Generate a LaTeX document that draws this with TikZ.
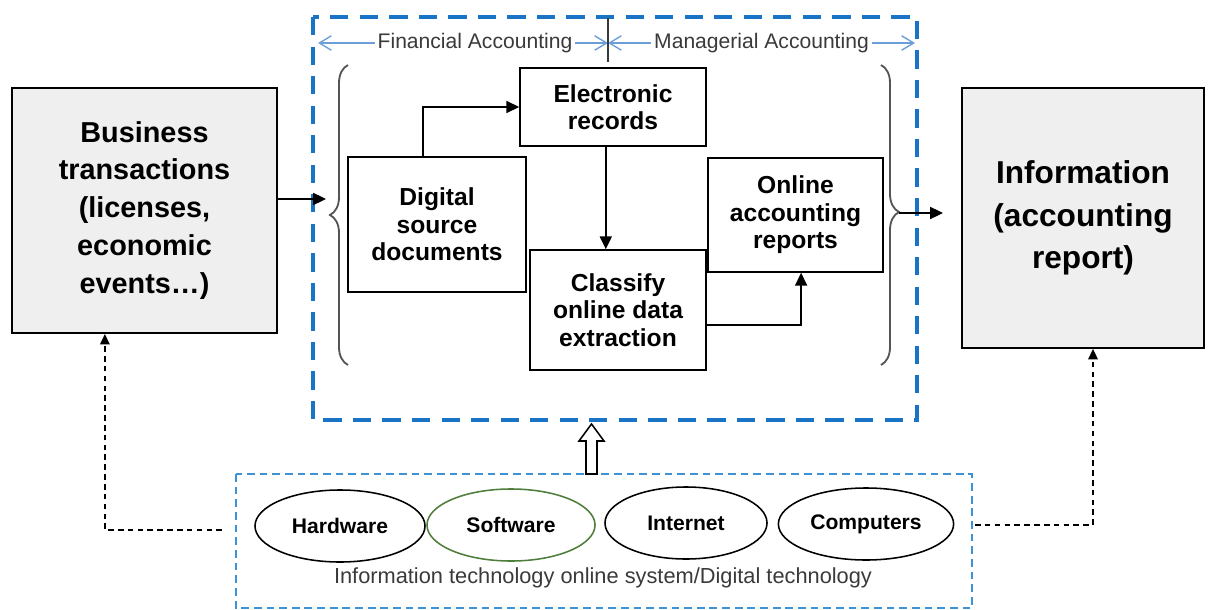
\documentclass[tikz,border=0pt]{standalone}
\usepackage{fontspec}
\setmainfont{Liberation Sans}
\usetikzlibrary{arrows.meta,positioning,shapes.geometric,calc,decorations.pathreplacing}
\definecolor{FrameBlue}{HTML}{1A74C6}
\definecolor{ArrowBlue}{HTML}{6A9FD8}
\definecolor{ItBlue}{HTML}{3D93D6}
\definecolor{BoxGray}{HTML}{EFEFEF}
\definecolor{LabelGray}{HTML}{3A3A3A}
\definecolor{BraceGray}{HTML}{555555}
\definecolor{EdgeGreen}{HTML}{4F7D3A}

\begin{document}
\begin{tikzpicture}[x=0.025cm,y=-0.025cm,
    outerbox/.style={draw,line width=1.3pt,fill=BoxGray,align=center,font=\bfseries},
    stagebox/.style={draw,line width=1.1pt,align=center,font=\fontsize{17.5}{19.5}\selectfont\bfseries},
    techitem/.style={ellipse,draw,line width=1.1pt,font=\fontsize{15}{17}\selectfont\bfseries,minimum height=1.8cm},
    flow/.style={line width=1.1pt,-{Triangle[length=3.2mm,width=3mm]}},
    link/.style={line width=0.9pt,dashed,dash pattern=on 4pt off 3pt,-{Triangle[length=2.6mm,width=2.4mm]}},
    scopearrow/.style={ArrowBlue,line width=1pt,{Straight Barb[length=3mm,width=3.6mm]}-{Straight Barb[length=3mm,width=3.6mm]}},
    scopelabel/.style={fill=white,text=LabelGray,inner sep=2pt,font=\fontsize{15}{17}\selectfont},
    curly/.style={BraceGray,line width=1.3pt,decorate}]
  \useasboundingbox (0,0) rectangle (1208,610);

  \draw[FrameBlue,line width=2.8pt,dash pattern=on 13pt off 8pt] (313,17) rectangle (917,420);
  \draw[ItBlue,line width=1.1pt,dash pattern=on 5.5pt off 3.5pt] (236,474) rectangle (972,608);

  \node[outerbox,minimum width=6.63cm,minimum height=6.13cm,font=\fontsize{20.5}{27}\selectfont\bfseries] (biz) at (144.5,210.5)
    {Business\\transactions\\(licenses,\\economic\\events\dots)};
  \node[outerbox,minimum width=6.05cm,minimum height=6.5cm,font=\fontsize{22.5}{30}\selectfont\bfseries] (info) at (1083,218)
    {Information\\(accounting\\report)};

  \coordinate (split) at (608,43);
  \coordinate (finl) at (318,43);
  \coordinate (manr) at (915,43);
  \draw[scopearrow] (finl) -- (split) node[scopelabel,midway,xshift=0.3cm] {Financial Accounting};
  \draw[scopearrow] (split) -- (manr) node[scopelabel,midway] {Managerial Accounting};
  \draw[LabelGray,line width=0.9pt] (608,18) -- (608,62);

  \node[stagebox,minimum width=4.45cm,minimum height=3.38cm] (dig) at (437,224.5) {Digital\\source\\documents};
  \node[stagebox,minimum width=4.65cm,minimum height=1.95cm] (elec) at (613,107) {Electronic\\records};
  \node[stagebox,minimum width=4.4cm,minimum height=3cm] (cls) at (618,310) {Classify\\online data\\extraction};
  \node[stagebox,minimum width=4.38cm,minimum height=2.85cm] (onl) at (795.5,215) {Online\\accounting\\reports};

  \draw[flow] ([xshift=-0.35cm]dig.north) |- (elec.west);
  \draw[flow] ([xshift=-0.18cm]elec.south) -- ([xshift=-0.18cm]elec.south |- cls.north);
  \draw[flow] ([yshift=-0.38cm]cls.east) -| ([xshift=0.14cm]onl.south);

  \draw[curly,decoration={brace,amplitude=0.45cm,aspect=0.5}] (348,365) -- (348,65);
  \draw[curly,decoration={brace,amplitude=0.45cm,aspect=0.49}] (881,65) -- (881,365);
  \coordinate (lbrace) at (326,199);
  \coordinate (rbrace) at (899,213);
  \coordinate (rbend) at (943,213);
  \draw[flow] (biz.east |- lbrace) -- (lbrace);
  \draw[flow] (rbrace) -- (rbend);

  \node[techitem,minimum width=4.25cm] (hw) at (340,526) {Hardware};
  \node[techitem,minimum width=4.2cm,draw=EdgeGreen] (sw) at (511,525) {Software};
  \node[techitem,minimum width=4.05cm] (net) at (686,523) {Internet};
  \node[techitem,minimum width=4.38cm] (pc) at (866,524) {Computers};
  \node[text=LabelGray,font=\fontsize{15.5}{17}\selectfont] (itlabel) at (603,578)
    {Information technology online system/Digital technology};

  \draw[line width=1.1pt,fill=white] (586,474) -- (586,441) -- (579,441) -- (591.5,424) -- (604,441) -- (597,441) -- (597,474) -- cycle;

  \coordinate (itl) at (222,530);
  \coordinate (itr) at (975,525);
  \draw[link] (itl) -| ([xshift=-0.99cm]biz.south);
  \draw[link] (itr) -| ([xshift=0.25cm]info.south);
\end{tikzpicture}
\end{document}
